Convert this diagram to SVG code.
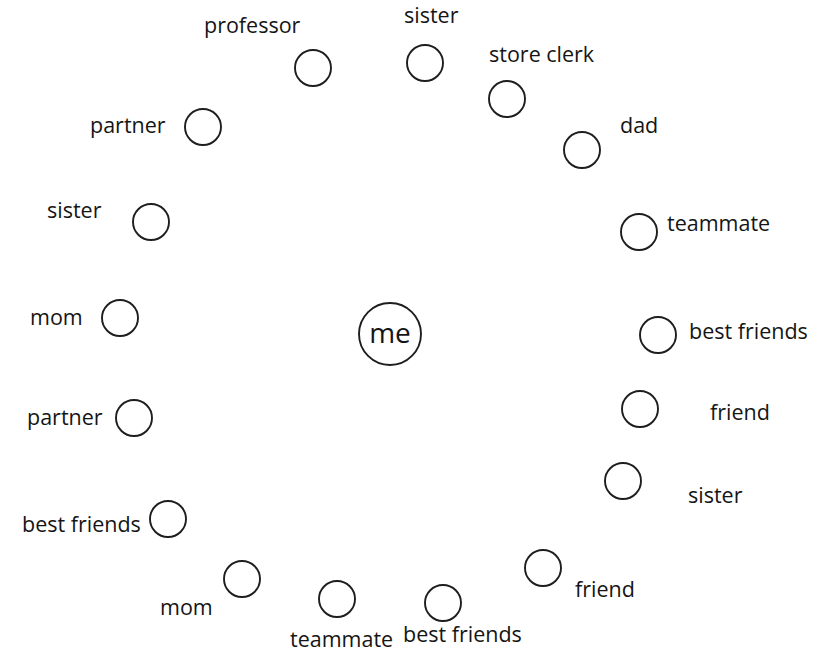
<svg xmlns="http://www.w3.org/2000/svg" width="833" height="658" viewBox="0 0 833 658">
  <style>
    .n circle { fill: #fff; stroke: #1e1e1e; stroke-width: 1.9; }
    text { font-family: "Open Sans", "Noto Sans", sans-serif; font-size: 21.5px; fill: #151515; }
    .c { text-anchor: middle; }
  </style>
  <rect width="833" height="658" fill="#fff"/>
  <g id="connectors"/>
  <g id="me" class="n"><circle cx="390" cy="334" r="31"/><text class="c" x="390" y="343" style="font-size:28px">me</text></g>
  <g id="professor" class="n"><circle cx="313" cy="68" r="18"/><text x="204" y="33">professor</text></g>
  <g id="sister-top" class="n"><circle cx="425" cy="63" r="18"/><text x="404" y="23">sister</text></g>
  <g id="store-clerk" class="n"><circle cx="507" cy="99" r="18"/><text x="489" y="62">store clerk</text></g>
  <g id="dad" class="n"><circle cx="582" cy="150" r="18"/><text x="620" y="133">dad</text></g>
  <g id="teammate-right" class="n"><circle cx="639" cy="232" r="18"/><text x="667" y="231">teammate</text></g>
  <g id="best-friends-right" class="n"><circle cx="658" cy="335" r="18"/><text x="689" y="339">best friends</text></g>
  <g id="friend-right" class="n"><circle cx="640" cy="409" r="18"/><text x="710" y="420">friend</text></g>
  <g id="sister-right" class="n"><circle cx="623" cy="481" r="18"/><text x="688" y="503">sister</text></g>
  <g id="friend-bottom" class="n"><circle cx="543" cy="568" r="18"/><text x="575" y="597">friend</text></g>
  <g id="best-friends-bottom" class="n"><circle cx="443" cy="603" r="18"/><text x="403" y="642">best friends</text></g>
  <g id="teammate-bottom" class="n"><circle cx="337" cy="599" r="18"/><text x="290" y="647">teammate</text></g>
  <g id="mom-bottom" class="n"><circle cx="242" cy="579" r="18"/><text x="160" y="615">mom</text></g>
  <g id="best-friends-left" class="n"><circle cx="168" cy="519" r="18"/><text x="22" y="532">best friends</text></g>
  <g id="partner-left" class="n"><circle cx="134" cy="418" r="18"/><text x="27" y="425">partner</text></g>
  <g id="mom-left" class="n"><circle cx="120" cy="318" r="18"/><text x="30" y="325">mom</text></g>
  <g id="sister-left" class="n"><circle cx="151" cy="222" r="18"/><text x="47" y="218">sister</text></g>
  <g id="partner-top" class="n"><circle cx="203" cy="127" r="18"/><text x="90" y="133">partner</text></g>
</svg>
